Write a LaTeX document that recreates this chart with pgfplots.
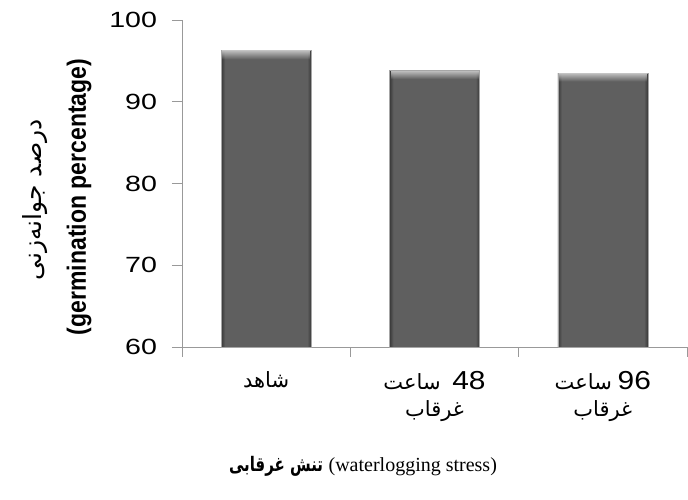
\documentclass[border=0pt]{standalone}
\usepackage{pgfplots}
\pgfplotsset{compat=1.18}
\usetikzlibrary{fadings}
\usepackage{graphicx}
\usepackage{fontspec}
\setmainfont{Liberation Sans}
\newfontfamily\serif{Liberation Serif}
\newfontfamily\arabicfont[Script=Arabic]{DejaVu Sans}
\TeXXeTstate=1
\definecolor{bedge}{HTML}{383838}
\definecolor{bface}{HTML}{5F5F5F}
\pgfdeclarehorizontalshading{barshade}{100bp}{color(0bp)=(bedge); color(25bp)=(bedge); color(27.2bp)=(bface); color(72.8bp)=(bface); color(75bp)=(bedge); color(100bp)=(bedge)}
\pgfdeclareverticalshading{capfade}{100bp}{color(0bp)=(pgftransparent!100); color(73.4bp)=(pgftransparent!100); color(75bp)=(pgftransparent!0); color(100bp)=(pgftransparent!0)}
\pgfdeclarefading{topcap}{\pgfuseshading{capfade}}
\newcommand{\fa}[1]{\mbox{\arabicfont\beginR #1\endR}}
\newcommand{\num}[1]{\mbox{\fontsize{26}{28}\selectfont\scalebox{1.15}[1]{#1}}}
\newcommand{\hrs}{\fa{ساعت}}
\begin{document}
\begin{tikzpicture}
\path[use as bounding box] (-182pt,-153pt) rectangle (506pt,347pt);
\begin{axis}[
  at={(0,0)}, anchor=south west,
  scale only axis, width=505pt, height=327pt,
  xmin=0, xmax=3, ymin=60, ymax=100,
  axis lines*=left,
  axis line style={black!40, line width=0.9pt},
  tick align=outside,
  ytick={60,70,80,90,100},
  major tick length=10pt, minor tick length=10pt,
  tick style={black!40, line width=0.9pt},
  xtick={0.5,1.5,2.5},
  major x tick style={draw=none},
  minor xtick={0,1,2,3},
  xticklabels={
    {\fa{شاهد}},
    {\hrs\ \ \num{48}\\\fa{غرقاب}},
    {\hrs\ \num{96}\\\fa{غرقاب}}},
  xticklabel style={align=center, font=\fontsize{21}{27}\selectfont, yshift=-11pt},
  yticklabel style={font=\fontsize{22}{25}\selectfont, xscale=1.3, xshift=-8pt},
  /pgf/number format/assume math mode=true,
  clip=false,
]
\addplot[ybar, bar shift=0pt, bar width=90pt, draw=black!35, line width=0.6pt, shading=barshade] coordinates {(0.5,96.3)};
\addplot[ybar, bar shift=0pt, bar width=90pt, draw=black!35, line width=0.6pt, shading=barshade] coordinates {(1.5,93.8)};
\addplot[ybar, bar shift=0pt, bar width=90pt, draw=black!35, line width=0.6pt, shading=barshade] coordinates {(2.5,93.5)};
\addplot[ybar, bar shift=0pt, bar width=88pt, draw=none, fill=black!22, path fading=topcap] coordinates {(0.5,96.3)};
\addplot[ybar, bar shift=0pt, bar width=88pt, draw=none, fill=black!22, path fading=topcap] coordinates {(1.5,93.8)};
\addplot[ybar, bar shift=0pt, bar width=88pt, draw=none, fill=black!22, path fading=topcap] coordinates {(2.5,93.5)};
\end{axis}
\node[rotate=90, font=\fontsize{25}{28}\selectfont] at (-147pt,147pt) {\fa{درصد جوانه‌زنی}};
\node[rotate=90, yscale=1.15, font=\bfseries\fontsize{23}{26}\selectfont] at (-103pt,150pt) {(germination percentage)};
\node[font=\fontsize{20}{24}\selectfont] at (181pt,-119pt) {\scalebox{0.75}[1]{\bfseries\fa{تنش غرقابی}} {\serif (waterlogging stress)}};
\end{tikzpicture}
\end{document}
